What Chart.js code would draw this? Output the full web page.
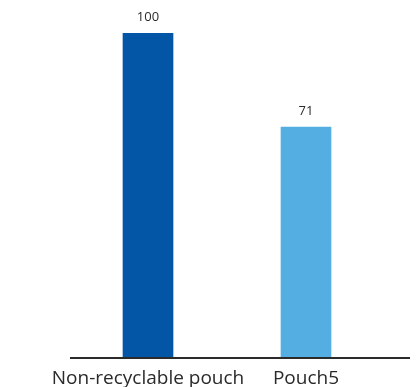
<!DOCTYPE html>
<html>
<head>
<meta charset="utf-8">
<script src="https://cdn.jsdelivr.net/npm/chart.js@4"></script>
<style>
  html, body { margin: 0; padding: 0; background: #fff; }
  #wrap { width: 417px; height: 387px; }
</style>
</head>
<body>
<div id="wrap"><canvas id="chartCanvas"></canvas></div>
<script>
const categories = ['Non-recyclable pouch', 'Pouch5'];
const values = [100, 71];
const barColors = ['#0356a5', '#54aee1'];

// value labels above each bar
const valueLabels = {
  id: 'valueLabels',
  afterDatasetsDraw(chart) {
    const ctx = chart.ctx;
    const meta = chart.getDatasetMeta(0);
    ctx.save();
    ctx.font = '13px "Open Sans", sans-serif';
    ctx.fillStyle = '#2a2a2a';
    ctx.textAlign = 'center';
    ctx.textBaseline = 'middle';
    meta.data.forEach((bar, i) => {
      ctx.fillText(values[i], bar.x, bar.y - 16);
    });
    ctx.restore();
  }
};

// baseline that runs past the last category
const baseLine = {
  id: 'baseLine',
  afterDatasetsDraw(chart) {
    const ctx = chart.ctx;
    const a = chart.chartArea;
    ctx.save();
    ctx.strokeStyle = '#2b2b2b';
    ctx.lineWidth = 2;
    ctx.beginPath();
    ctx.moveTo(a.left + 1, a.bottom + 1);
    ctx.lineTo(chart.width - 7, a.bottom + 1);
    ctx.stroke();
    ctx.restore();
  }
};

new Chart(document.getElementById('chartCanvas').getContext('2d'), {
  type: 'bar',
  data: {
    labels: categories,
    datasets: [{
      data: values,
      backgroundColor: barColors,
      barThickness: 50
    }]
  },
  options: {
    responsive: true,
    maintainAspectRatio: false,
    animation: false,
    layout: { padding: { left: 69, right: 32, top: 33, bottom: 0 } },
    plugins: { legend: { display: false }, tooltip: { enabled: false } },
    scales: {
      x: {
        grid: { display: false },
        border: { display: false },
        afterFit(scale) { scale.height = 30; },
        ticks: {
          color: '#2a2a2a',
          padding: 2,
          maxRotation: 0,
          autoSkip: false,
          font: { family: '"Open Sans", sans-serif', size: 19 }
        }
      },
      y: { display: false, min: 0, max: 100 }
    }
  },
  plugins: [valueLabels, baseLine]
});
</script>
</body>
</html>
